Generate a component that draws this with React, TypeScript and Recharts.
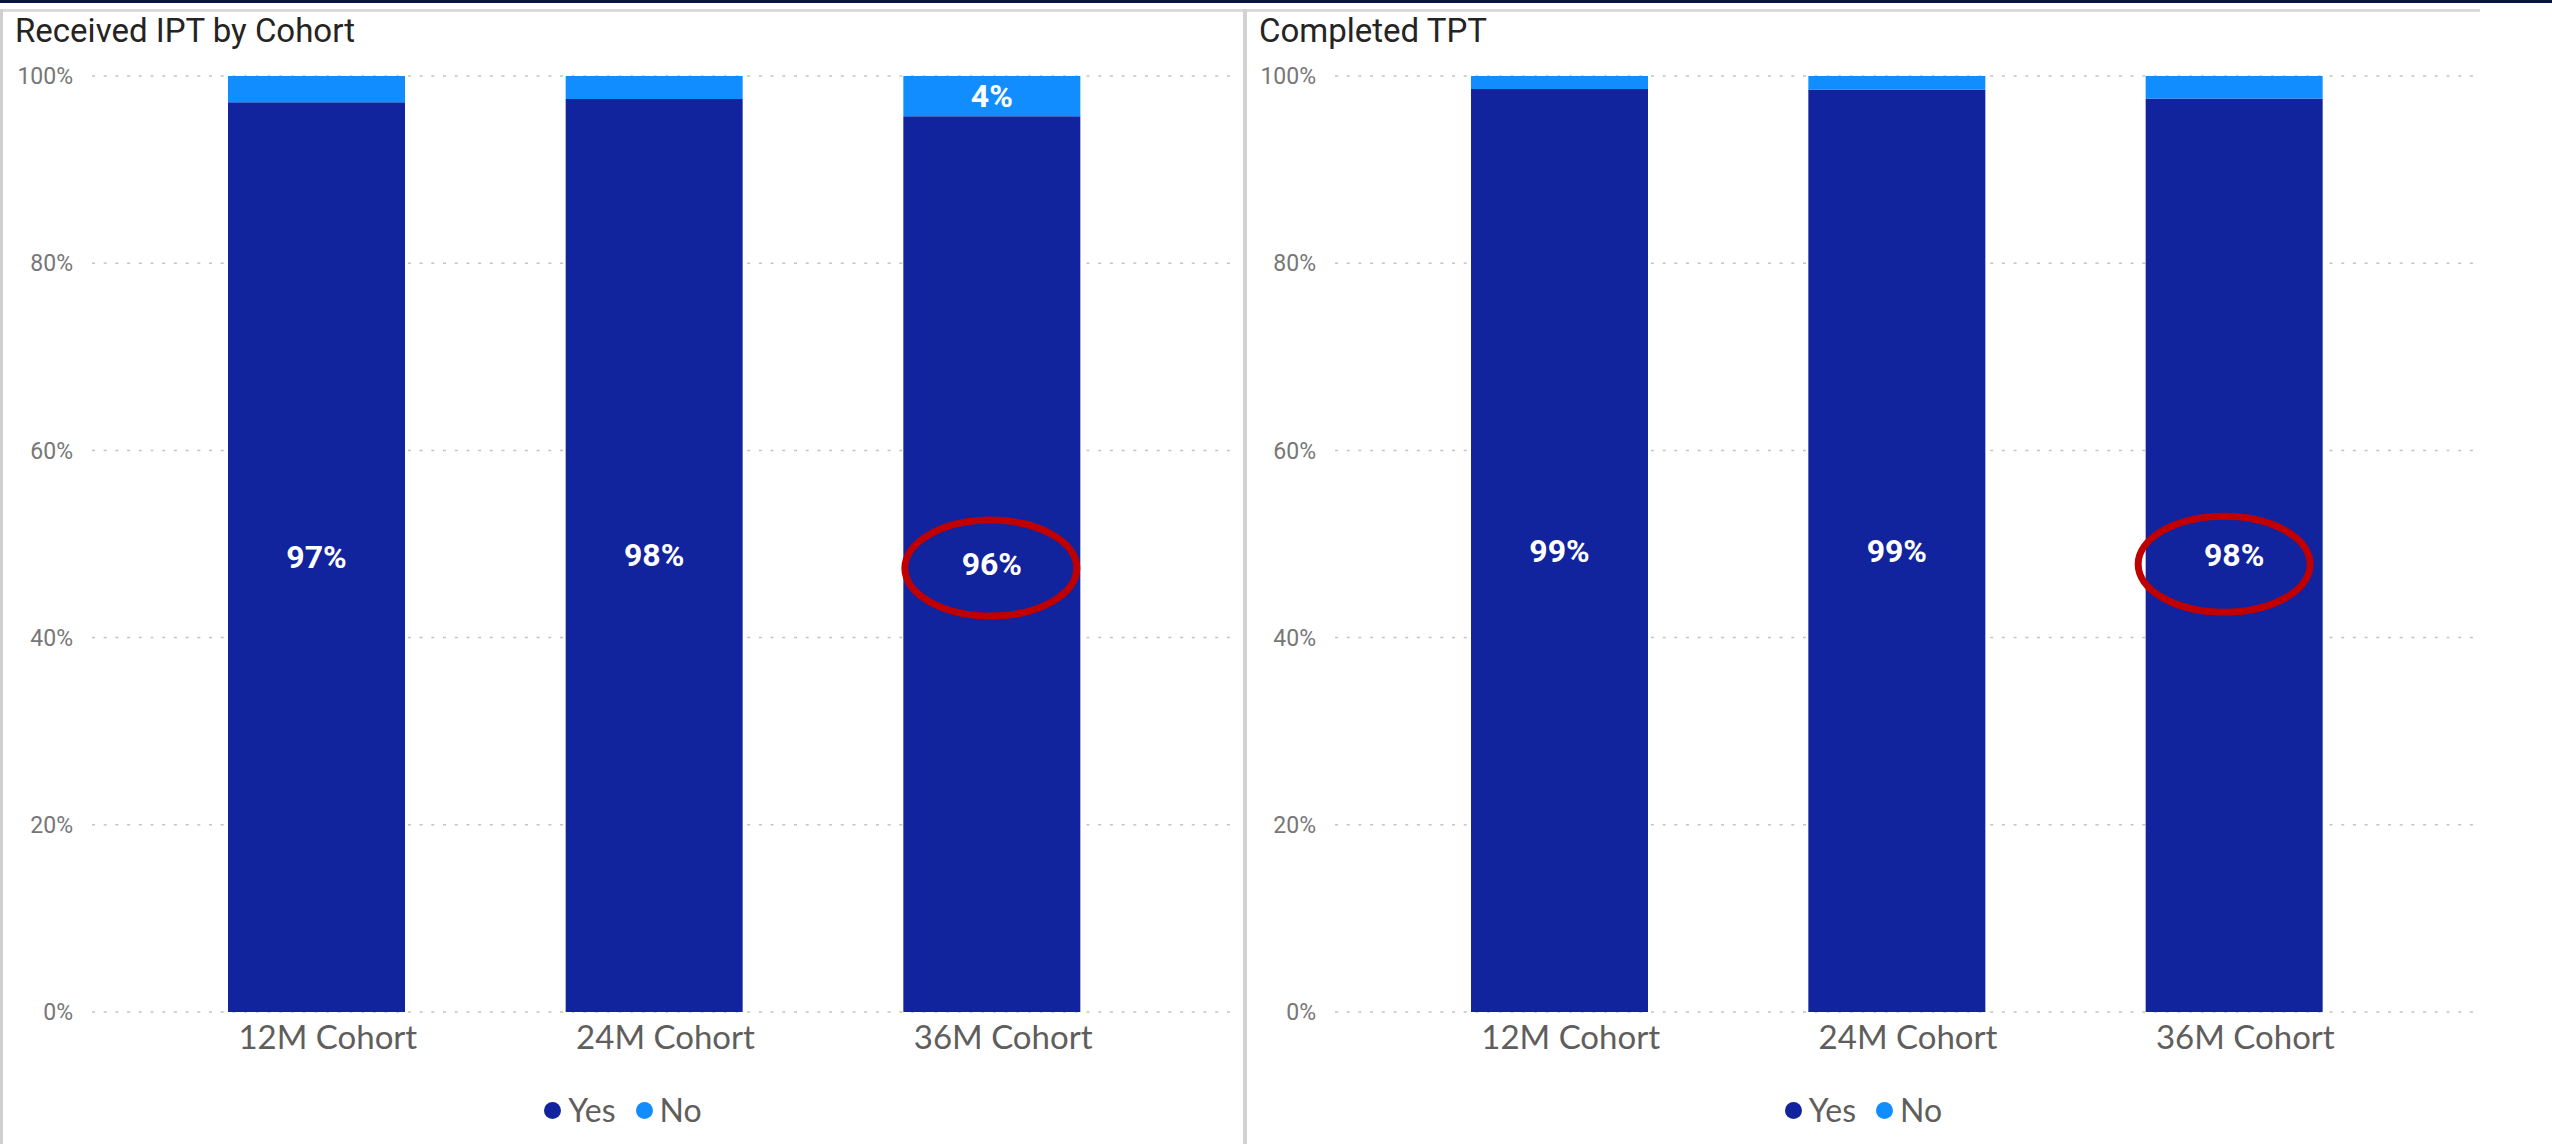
import React from 'react';
import { BarChart, Bar, XAxis, YAxis, CartesianGrid, Legend, LabelList } from 'recharts';

const COHORTS = ['12M Cohort', '24M Cohort', '36M Cohort'];
const IPT_YES = [97.2, 97.55, 95.7];
const IPT_NO = [2.8, 2.45, 4.3];
const TPT_YES = [98.6, 98.55, 97.6];
const TPT_NO = [1.4, 1.45, 2.4];
const Y_TICKS = [0, 20, 40, 60, 80, 100];
const HIGHLIGHT = '36M Cohort'; // circled in red on both charts

const SERIES = [
  { key: 'Yes', color: '#12239E' },
  { key: 'No', color: '#118DFF' },
];

const FONT_DIN = 'Roboto, "Noto Sans", sans-serif';
const FONT_UI = 'Lato, "Open Sans", sans-serif';

const CHART_H = 1094;

function makeLabel(ring?: { dx: number; dy: number }) {
  return (props: any) => {
    const vb = props.viewBox || {};
    const x = props.x ?? vb.x;
    const y = props.y ?? vb.y;
    const width = props.width ?? vb.width;
    const height = props.height ?? vb.height;
    if (height < 32) return null; // Power BI hides labels that don't fit
    const cx = x + width / 2;
    const cy = y + height / 2;
    const showRing = ring && COHORTS[props.index] === HIGHLIGHT;
    return (
      <g>
        <text
          x={cx}
          y={cy}
          textAnchor="middle"
          dominantBaseline="central"
          fill="#fff"
          fontSize={32}
          fontWeight={700}
          fontFamily={FONT_DIN}
        >
          {`${Math.round(props.value)}%`}
        </text>
        {showRing && (
          <ellipse
            cx={cx + ring.dx}
            cy={cy + ring.dy}
            rx={86}
            ry={48}
            fill="none"
            stroke="#C00000"
            strokeWidth={7}
          />
        )}
      </g>
    );
  };
}

const renderLegend = () => (
  <div style={{ height: 82, boxSizing: 'border-box', paddingTop: 30, display: 'flex', justifyContent: 'center' }}>
    {SERIES.map((s, i) => (
      <div
        key={s.key}
        style={{ display: 'flex', alignItems: 'center', height: 36, marginLeft: i ? 20 : 0 }}
      >
        <span style={{ width: 17, height: 17, borderRadius: 9, background: s.color, marginRight: 7 }} />
        <span style={{ fontFamily: FONT_UI, fontSize: 32, color: '#605E5C', lineHeight: '36px' }}>{s.key}</span>
      </div>
    ))}
  </div>
);

function Panel({
  title,
  yes,
  no,
  left,
  width,
  yWidth,
  marginRight,
  padRight,
  ring,
}: {
  title: string;
  yes: number[];
  no: number[];
  left: number;
  width: number;
  yWidth: number;
  marginRight: number;
  padRight: number;
  ring: { dx: number; dy: number };
}) {
  const rows = COHORTS.map((c, i) => ({ cohort: c, Yes: yes[i], No: no[i] }));
  return (
    <>
      <div
        style={{
          position: 'absolute',
          left: left + 12,
          top: 12,
          fontFamily: FONT_DIN,
          fontSize: 33,
          lineHeight: '38px',
          color: '#252423',
          whiteSpace: 'nowrap',
        }}
      >
        {title}
      </div>
      <div style={{ position: 'absolute', left, top: 50 }}>
        <BarChart width={width} height={CHART_H} data={rows} margin={{ top: 26, right: marginRight, left: 0, bottom: 0 }}>
          <CartesianGrid vertical={false} stroke="#c4c4c4" strokeDasharray="3 8.7" strokeWidth={1.5} />
          <XAxis
            dataKey="cohort"
            axisLine={false}
            tickLine={false}
            tickSize={0}
            tickMargin={14}
            height={50}
            interval={0}
            padding={{ left: 56, right: padRight }}
            tick={{ fontSize: 33, fill: '#605E5C', fontFamily: FONT_UI, dx: 11 }}
          />
          <YAxis
            domain={[0, 100]}
            ticks={Y_TICKS}
            width={yWidth}
            axisLine={false}
            tickLine={false}
            tickSize={0}
            tickMargin={19}
            tickFormatter={(v) => `${v}%`}
            tick={{ fontSize: 23, fill: '#777777', fontFamily: FONT_DIN }}
          />
          <Legend verticalAlign="bottom" content={renderLegend} wrapperStyle={{ left: 0, width }} />
          <Bar dataKey="Yes" stackId="s" fill={SERIES[0].color} barSize={177} isAnimationActive={false}>
            <LabelList dataKey="Yes" content={makeLabel(ring)} />
          </Bar>
          <Bar dataKey="No" stackId="s" fill={SERIES[1].color} barSize={177} isAnimationActive={false}>
            <LabelList dataKey="No" content={makeLabel()} />
          </Bar>
        </BarChart>
      </div>
    </>
  );
}

export default function App() {
  return (
    <div style={{ position: 'fixed', left: 0, top: 0, width: 2552, height: 1144, background: '#fff', overflow: 'hidden' }}>
      <div style={{ position: 'absolute', left: 0, top: 0, width: 2552, height: 3, background: '#0a1442' }} />
      <div style={{ position: 'absolute', left: 0, top: 9, width: 2480, height: 3, background: '#dadada' }} />
      <div style={{ position: 'absolute', left: 0, top: 9, width: 3, height: 1135, background: '#cfcfcf' }} />
      <div style={{ position: 'absolute', left: 1243, top: 9, width: 4, height: 1135, background: '#d2d2d2' }} />
      <Panel
        title="Received IPT by Cohort"
        yes={IPT_YES}
        no={IPT_NO}
        left={3}
        width={1240}
        yWidth={89}
        marginRight={6}
        padRight={76}
        ring={{ dx: -1, dy: 4 }}
      />
      <Panel
        title="Completed TPT"
        yes={TPT_YES}
        no={TPT_NO}
        left={1247}
        width={1233}
        yWidth={88}
        marginRight={3}
        padRight={74}
        ring={{ dx: -10, dy: 9 }}
      />
    </div>
  );
}
